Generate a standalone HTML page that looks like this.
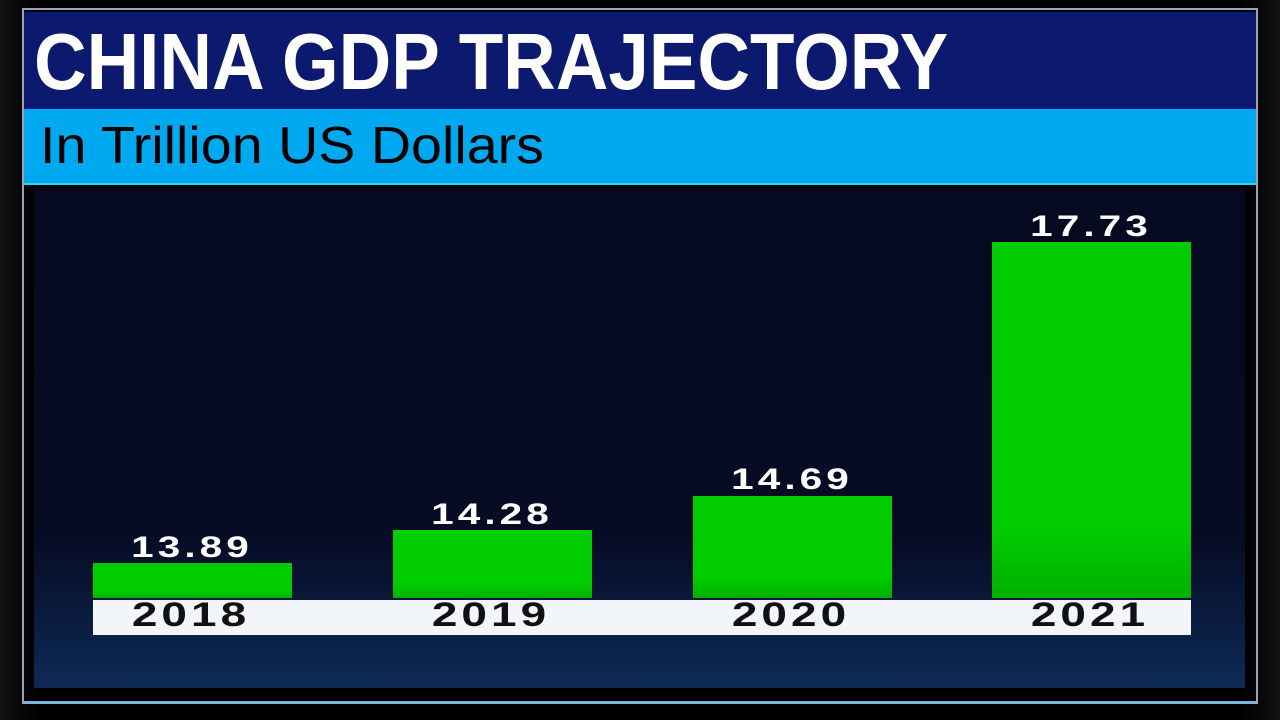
<!DOCTYPE html>
<html><head><style>
body{margin:0;width:1280px;height:720px;background:#000;position:relative;overflow:hidden;font-family:"Liberation Sans",sans-serif}
div{position:absolute}
.bar{background:linear-gradient(#00cc00 0,#00cc00 80%,#00b000 100%)}
.v{color:#fff;font-weight:bold;font-size:30px;text-align:center;width:200px;letter-spacing:3px;transform:scaleX(1.35)}
.y{color:#111;font-weight:bold;font-size:34px;top:596px;text-align:center;width:200px;letter-spacing:3px;transform:scaleX(1.35)}
</style></head><body>
<div style="left:0;top:0;width:1280px;height:720px;background:linear-gradient(90deg,#111 0,#000 3%,#000 97%,#111 100%)"></div>
<div style="left:22px;top:8px;width:1236px;height:696px;border:2px solid #9aa4b4;border-bottom:3px solid #7fb4d8;box-sizing:border-box"></div>
<div style="left:34px;top:188px;width:1211px;height:500px;background:linear-gradient(#060a20 0,#070c25 70%,#0d2a55 100%)"></div>
<div style="left:24px;top:12px;width:1232px;height:97px;background:#0b1a6e"></div>
<div style="left:34px;top:14px;color:#fff;font-weight:bold;font-size:80px;line-height:96px;letter-spacing:0px;transform-origin:left;transform:scaleX(0.91)">CHINA GDP TRAJECTORY</div>
<div style="left:24px;top:109px;width:1232px;height:74px;background:#00a8ef;border-bottom:2px solid #2ed6ff"></div>
<div style="left:40px;top:113px;color:#000;font-size:52px;line-height:66px;transform-origin:left;transform:scaleX(1.07)">In Trillion US Dollars</div>
<div class="bar" style="left:93px;top:563px;width:199px;height:35px"></div>
<div class="bar" style="left:393px;top:530px;width:199px;height:68px"></div>
<div class="bar" style="left:693px;top:496px;width:199px;height:102px"></div>
<div class="bar" style="left:992px;top:242px;width:199px;height:356px"></div>
<div class="v" style="left:92px;top:531px">13.89</div>
<div class="v" style="left:392px;top:498px">14.28</div>
<div class="v" style="left:692px;top:463px">14.69</div>
<div class="v" style="left:991px;top:210px">17.73</div>
<div style="left:93px;top:600px;width:1098px;height:35px;background:#f2f6fa"></div>
<div class="y" style="left:91px">2018</div>
<div class="y" style="left:391px">2019</div>
<div class="y" style="left:691px">2020</div>
<div class="y" style="left:990px">2021</div>
</body></html>
